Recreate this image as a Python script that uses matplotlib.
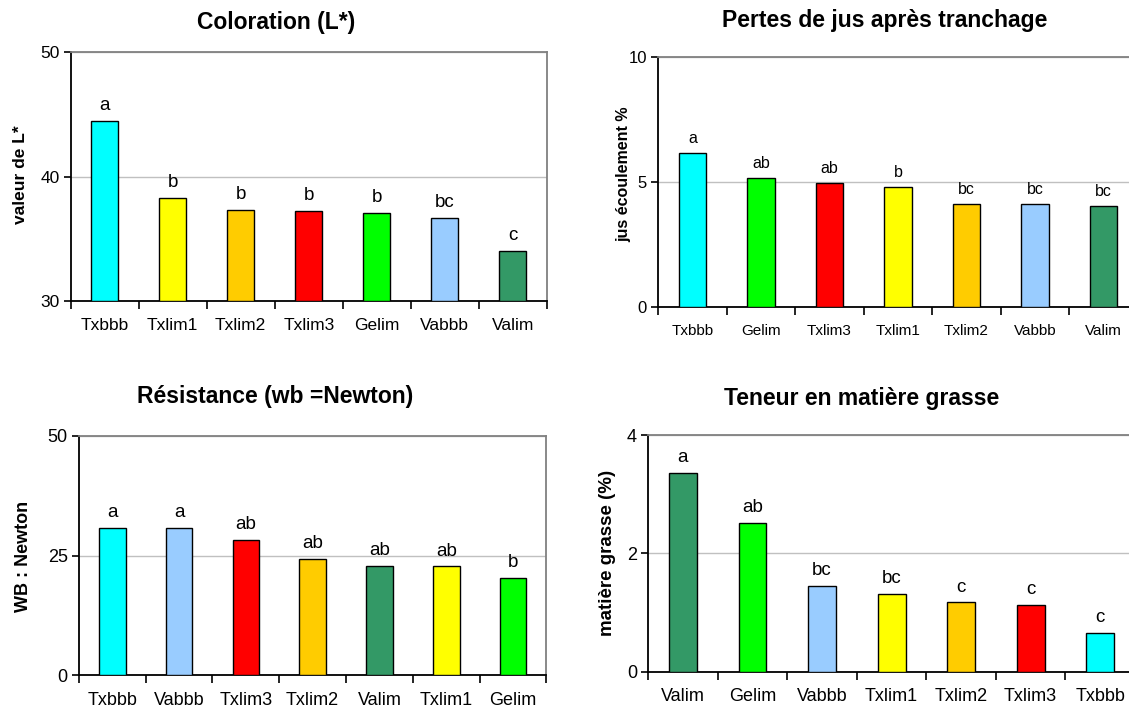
import matplotlib
matplotlib.use("Agg")
import matplotlib.pyplot as plt
from matplotlib.ticker import FixedLocator, NullFormatter

plt.rcParams['font.family'] = ['Liberation Sans', 'DejaVu Sans']

COLORS = {
    'Txbbb': '#00FFFF', 'Txlim1': '#FFFF00', 'Txlim2': '#FFCC00',
    'Txlim3': '#FF0000', 'Gelim': '#00FF00', 'Vabbb': '#99CCFF',
    'Valim': '#339966',
}

# Panel 1: Coloration (L*)
cat1 = ['Txbbb', 'Txlim1', 'Txlim2', 'Txlim3', 'Gelim', 'Vabbb', 'Valim']
val1 = [44.5, 38.3, 37.35, 37.25, 37.1, 36.65, 34.0]
let1 = ['a', 'b', 'b', 'b', 'b', 'bc', 'c']

# Panel 2: Pertes de jus après tranchage
cat2 = ['Txbbb', 'Gelim', 'Txlim3', 'Txlim1', 'Txlim2', 'Vabbb', 'Valim']
val2 = [6.14, 5.15, 4.97, 4.79, 4.13, 4.13, 4.02]
let2 = ['a', 'ab', 'ab', 'b', 'bc', 'bc', 'bc']

# Panel 3: Résistance (wb = Newton)
cat3 = ['Txbbb', 'Vabbb', 'Txlim3', 'Txlim2', 'Valim', 'Txlim1', 'Gelim']
val3 = [30.7, 30.7, 28.2, 24.2, 22.9, 22.7, 20.2]
let3 = ['a', 'a', 'ab', 'ab', 'ab', 'ab', 'b']

# Panel 4: Teneur en matière grasse
cat4 = ['Valim', 'Gelim', 'Vabbb', 'Txlim1', 'Txlim2', 'Txlim3', 'Txbbb']
val4 = [3.36, 2.52, 1.45, 1.32, 1.17, 1.13, 0.65]
let4 = ['a', 'ab', 'bc', 'bc', 'c', 'c', 'c']

W, H = 1129, 712
fig = plt.figure(figsize=(W / 100, H / 100), dpi=100)


def px_axes(left, top, right, bottom):
    return fig.add_axes([left / W, 1 - bottom / H, (right - left) / W, (bottom - top) / H])


def panel(ax, cats, vals, lets, ymin, ymax, yticks, xlim_right, fs_xtick, fs_ytick, fs_let):
    x = list(range(len(cats)))
    ax.bar(x, [v - ymin for v in vals], bottom=ymin, width=0.4,
           color=[COLORS[c] for c in cats], edgecolor='black', linewidth=1.0, zorder=3)
    ax.set_ylim(ymin, ymax)
    ax.set_xlim(-0.5, xlim_right)
    ax.set_yticks(yticks)
    ax.set_yticklabels([str(t) for t in yticks], fontsize=fs_ytick)
    bounds = [i - 0.5 for i in range(len(cats) + 1)]
    ax.xaxis.set_major_locator(FixedLocator(bounds))
    ax.xaxis.set_major_formatter(NullFormatter())
    ax.xaxis.set_minor_locator(FixedLocator(x))
    ax.set_xticklabels(cats, minor=True, fontsize=fs_xtick)
    ax.tick_params(axis='x', which='major', direction='out', length=6, width=1.2, color='black')
    ax.tick_params(axis='x', which='minor', length=0, pad=12)
    ax.tick_params(axis='y', direction='out', length=5, width=1.2, color='black', pad=3)
    for sp in ['left', 'bottom']:
        ax.spines[sp].set_color('black')
        ax.spines[sp].set_linewidth(1.3)
    for sp in ['top', 'right']:
        ax.spines[sp].set_color('#808080')
        ax.spines[sp].set_linewidth(1.3)
    ax.yaxis.grid(True, color='#C0C0C0', linewidth=1.0, zorder=0)
    ax.set_axisbelow(True)
    for xi, v, l in zip(x, vals, lets):
        ax.annotate(l, (xi, v), xytext=(0, 5), textcoords='offset points',
                    ha='center', va='bottom', fontsize=fs_let, color='black')


ax1 = px_axes(70.7, 52.3, 546.8, 301)
panel(ax1, cat1, val1, let1, 30, 50, [30, 40, 50], 6.5, 12.5, 12.5, 13.5)

ax2 = px_axes(658.2, 56.7, 1137.7, 307)
panel(ax2, cat2, val2, let2, 0, 10, [0, 5, 10], 6.5, 11, 12, 11.5)

ax3 = px_axes(78.9, 436, 546.4, 675)
panel(ax3, cat3, val3, let3, 0, 50, [0, 25, 50], 6.5, 13, 13, 13.5)

ax4 = px_axes(648.2, 435, 1135, 671.7)
panel(ax4, cat4, val4, let4, 0, 4, [0, 2, 4], 6.5, 13, 13, 13.5)


def ftext(x, y, s, **kw):
    fig.text(x / W, 1 - y / H, s, ha='center', va='center', **kw)


ftext(276.5, 23, 'Coloration (L*)', fontsize=16.5, fontweight='bold')
ftext(885, 21, 'Pertes de jus après tranchage', fontsize=16.5, fontweight='bold')
ftext(275.5, 397, 'Résistance (wb =Newton)', fontsize=16.5, fontweight='bold')
ftext(861.5, 398, 'Teneur en matière grasse', fontsize=16.5, fontweight='bold')

ftext(21, 175, 'valeur de L*', fontsize=12.5, fontweight='bold', rotation=90)
ftext(624, 174, 'jus écoulement %', fontsize=11.5, fontweight='bold', rotation=90)
ftext(24, 556, 'WB : Newton', fontsize=13, fontweight='bold', rotation=90)
ftext(608, 553, 'matière grasse (%)', fontsize=13.5, fontweight='bold', rotation=90)

fig.savefig('out.png', dpi=100)
